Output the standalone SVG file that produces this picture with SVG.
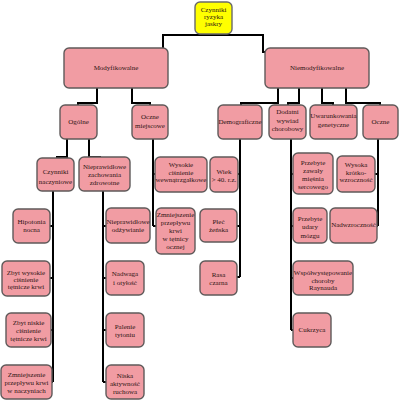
<svg xmlns="http://www.w3.org/2000/svg" width="400" height="400" viewBox="0 0 400 400">
<style>
.n rect{fill:#F19CA3;stroke:#5f5a5a;stroke-width:1.4}
.r rect{fill:#FFFF00;stroke:#6a6a6a;stroke-width:1.4}
text{font-family:"Liberation Serif","Times New Roman",serif;font-size:7px;fill:#2e1414;text-anchor:middle}
.c path{fill:none;stroke:#000;stroke-width:2}
</style>
<rect width="400" height="400" fill="#fff"/>
<g class="c" id="connectors">
<path d="M163,48 V35 H263 V52 H265"/>
<path d="M97,88 V103 H78 V105"/>
<path d="M132,88 V103 H150 V105"/>
<path d="M278,88 V103 H241 V105"/>
<path d="M299,88 V103 H288 V105"/>
<path d="M322,88 V103 H333 V105"/>
<path d="M346,88 V103 H380 V105"/>
<path d="M67,139 V157 H57 V158"/>
<path d="M89,139 V157 H100 V158"/>
<path d="M153,139 V226 M153,174 H155 M153,226 H156"/>
<path d="M240,139 V277 M240,174 H238 M240,226 H237 M240,277 H237"/>
<path d="M291,139 V330 M291,174 H293 M291,226 H293 M291,278 H293 M291,330 H293"/>
<path d="M378,139 V226 M378,174 H375 M378,226 H377"/>
<path d="M53,191 V382 M53,226 H50 M53,278 H50 M53,330 H51 M53,382 H52"/>
<path d="M103,191 V382 M103,226 H106 M103,278 H106 M103,330 H106 M103,382 H106"/>
</g>
<g class="r" id="root"><rect x="195" y="2" width="37" height="32" rx="5"/>
<text x="213.5" y="12">Czynniki</text><text x="213.5" y="19">ryzyka</text><text x="213.5" y="26">jaskry</text></g>
<g class="n" id="modyfikowalne"><rect x="64" y="48" width="104" height="40" rx="5"/><text x="116" y="70">Modyfikowalne</text></g>
<g class="n" id="niemodyfikowalne"><rect x="265" y="48" width="104" height="40" rx="5"/><text x="317" y="70">Niemodyfikowalne</text></g>
<g class="n" id="ogolne"><rect x="60" y="105" width="37" height="34" rx="5"/><text x="78.5" y="124">Ogólne</text></g>
<g class="n" id="oczne-miejscowe"><rect x="132" y="105" width="36" height="34" rx="5"/><text x="150" y="119">Oczne</text><text x="150" y="128">miejscowe</text></g>
<g class="n" id="demograficzne"><rect x="218" y="105" width="44" height="34" rx="5"/><text x="240" y="124">Demograficzne</text></g>
<g class="n" id="dodatni"><rect x="269" y="105" width="37" height="34" rx="5"/><text x="287.5" y="114">Dodatni</text><text x="287.5" y="123">wywiad</text><text x="287.5" y="131">chorobowy</text></g>
<g class="n" id="uwarunkowania"><rect x="310" y="105" width="47" height="34" rx="5"/><text x="333.5" y="118">Uwarunkowania</text><text x="333.5" y="127">genetyczne</text></g>
<g class="n" id="oczne"><rect x="363" y="105" width="35" height="34" rx="5"/><text x="380.5" y="124">Oczne</text></g>
<g class="n" id="czynniki-naczyniowe"><rect x="37" y="158" width="37" height="33" rx="5"/><text x="55.5" y="174">Czynniki</text><text x="55.5" y="184">naczyniowe</text></g>
<g class="n" id="nieprawidlowe-zachowania"><rect x="79" y="157" width="51" height="34" rx="5"/><text x="104.5" y="169">Nieprawidłowe</text><text x="104.5" y="177">zachowania</text><text x="104.5" y="185">zdrowotne</text></g>
<g class="n" id="wysokie-cisnienie"><rect x="155" y="157" width="52" height="35" rx="5"/><text x="181" y="167">Wysokie</text><text x="181" y="175">ciśnienie</text><text x="181" y="182">wewnątrzgałkowe</text></g>
<g class="n" id="wiek"><rect x="210" y="157" width="28" height="35" rx="5"/><text x="224" y="174">Wiek</text><text x="224" y="182">&gt; 40. r.z.</text></g>
<g class="n" id="zmniejszenie-ocznej"><rect x="156" y="208" width="39" height="46" rx="5"/><text x="175.5" y="217">Zmniejszenie</text><text x="175.5" y="225">przepływu</text><text x="175.5" y="233">krwi</text><text x="175.5" y="241">w tętnicy</text><text x="175.5" y="249">ocznej</text></g>
<g class="n" id="plec"><rect x="200" y="209" width="37" height="33" rx="5"/><text x="218.5" y="224">Płeć</text><text x="218.5" y="232">żeńska</text></g>
<g class="n" id="rasa"><rect x="200" y="261" width="37" height="34" rx="5"/><text x="218.5" y="277">Rasa</text><text x="218.5" y="285">czarna</text></g>
<g class="n" id="zawaly"><rect x="293" y="153" width="40" height="41" rx="5"/><text x="313" y="165">Przebyte</text><text x="313" y="173">zawały</text><text x="313" y="181">mięśnia</text><text x="313" y="189">sercowego</text></g>
<g class="n" id="krotkowzrocznosc"><rect x="337" y="156" width="38" height="36" rx="5"/><text x="356" y="167">Wysoka</text><text x="356" y="175">krótko-</text><text x="356" y="182">wzroczność</text></g>
<g class="n" id="udary"><rect x="293" y="208" width="34" height="35" rx="5"/><text x="310" y="221">Przebyte</text><text x="310" y="229">udary</text><text x="310" y="238">mózgu</text></g>
<g class="n" id="nadwzrocznosc"><rect x="330" y="208" width="47" height="35" rx="5"/><text x="353.5" y="227">Nadwzroczność</text></g>
<g class="n" id="raynaud"><rect x="293" y="261" width="60" height="34" rx="5"/><text x="323" y="275">Współwystępowanie</text><text x="323" y="283">choroby</text><text x="323" y="290">Raynauda</text></g>
<g class="n" id="cukrzyca"><rect x="293" y="313" width="38" height="34" rx="5"/><text x="312" y="332">Cukrzyca</text></g>
<g class="n" id="hipotonia"><rect x="13" y="209" width="37" height="34" rx="5"/><text x="31.5" y="224">Hipotonia</text><text x="31.5" y="232">nocna</text></g>
<g class="n" id="zbyt-wysokie"><rect x="2" y="261" width="48" height="35" rx="5"/><text x="26" y="275">Zbyt wysokie</text><text x="26" y="282">ciśnienie</text><text x="26" y="289">tętnicze krwi</text></g>
<g class="n" id="zbyt-niskie"><rect x="6" y="313" width="45" height="34" rx="5"/><text x="28.5" y="325">Zbyt niskie</text><text x="28.5" y="333">ciśnienie</text><text x="28.5" y="341">tętnicze krwi</text></g>
<g class="n" id="zmniejszenie-naczyniach"><rect x="1" y="365" width="51" height="34" rx="5"/><text x="26.5" y="377">Zmniejszenie</text><text x="26.5" y="385">przepływu krwi</text><text x="26.5" y="393">w naczyniach</text></g>
<g class="n" id="odzywianie"><rect x="106" y="208" width="44" height="35" rx="5"/><text x="128" y="224">Nieprawidłowe</text><text x="128" y="232">odżywianie</text></g>
<g class="n" id="nadwaga"><rect x="106" y="261" width="38" height="34" rx="5"/><text x="125" y="276">Nadwaga</text><text x="125" y="285">i otyłość</text></g>
<g class="n" id="palenie"><rect x="106" y="313" width="38" height="34" rx="5"/><text x="125" y="329">Palenie</text><text x="125" y="337">tytoniu</text></g>
<g class="n" id="aktywnosc"><rect x="106" y="365" width="38" height="34" rx="5"/><text x="125" y="378">Niska</text><text x="125" y="386">aktywność</text><text x="125" y="394">ruchowa</text></g>
</svg>
